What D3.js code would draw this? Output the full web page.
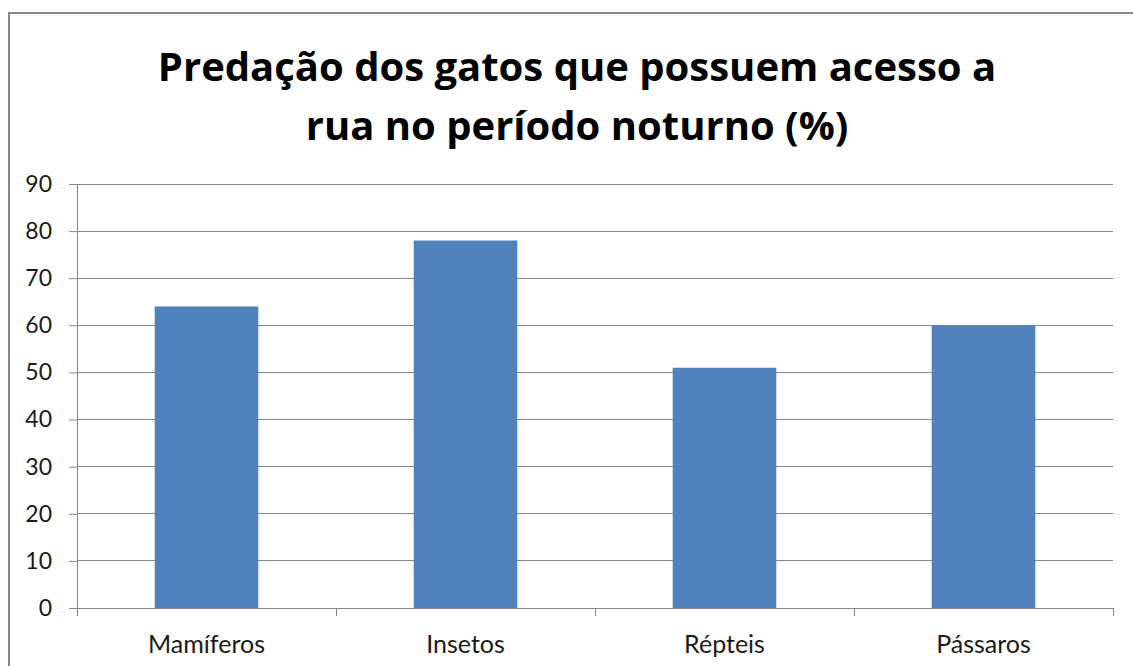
<!DOCTYPE html>
<html><head><meta charset="utf-8">
<script src="https://cdn.jsdelivr.net/npm/d3@7"></script>
<style>body{margin:0;background:#fff;} svg{display:block;}</style>
</head><body>
<svg id="c" width="1133" height="666"></svg>
<script>
const categories = ["Mamíferos", "Insetos", "Répteis", "Pássaros"];
const values = [64, 78, 51, 60];
const yTicks = [0, 10, 20, 30, 40, 50, 60, 70, 80, 90];
const titleLines = ["Predação dos gatos que possuem acesso a", "rua no período noturno (%)"];

(function () {
const svg = d3.select("#c");
svg.append("rect").attr("x", 9).attr("y", 13).attr("width", 1140).attr("height", 670)
  .attr("fill", "#fff").attr("stroke", "#868686").attr("stroke-width", 2);

const pLeft = 77, pRight = 1113, pTop = 184, pBottom = 608;
const x = d3.scaleBand().domain(categories).range([pLeft, pRight]).paddingInner(0.6).paddingOuter(0.3);
const y = d3.scaleLinear().domain([0, 90]).range([pBottom, pTop]);

svg.append("g").selectAll("line").data(yTicks.filter(d => d > 0)).join("line")
  .attr("x1", pLeft).attr("x2", pRight).attr("y1", d => y(d)).attr("y2", d => y(d))
  .attr("stroke", "#868686").attr("stroke-width", 1).attr("shape-rendering", "crispEdges");

svg.append("g").selectAll("rect").data(values).join("rect")
  .attr("x", (d, i) => x(categories[i])).attr("width", x.bandwidth())
  .attr("y", d => y(d)).attr("height", d => y(0) - y(d))
  .attr("fill", "#4F81BD");

const font = "Lato, 'Open Sans', sans-serif";
const ya = svg.append("g").attr("transform", `translate(${pLeft},0)`)
  .call(d3.axisLeft(y).tickValues(yTicks).tickSize(8).tickPadding(17).tickSizeOuter(0));
ya.select(".domain").attr("stroke", "#868686");
ya.selectAll(".tick line").attr("stroke", "#868686");
ya.selectAll("text").attr("font-family", font).attr("font-size", 23).attr("fill", "#1a1a1a");

const xa = svg.append("g").attr("transform", `translate(0,${pBottom})`)
  .call(d3.axisBottom(x).tickSize(0).tickPadding(27).tickSizeOuter(0));
xa.select(".domain").attr("stroke", "#868686");
xa.selectAll("text").attr("font-family", font).attr("font-size", 25).attr("fill", "#1a1a1a");
const bounds = d3.range(categories.length + 1).map(i => pLeft + i * (pRight - pLeft) / categories.length);
svg.append("g").selectAll("line").data(bounds).join("line")
  .attr("x1", d => d).attr("x2", d => d).attr("y1", pBottom).attr("y2", pBottom + 8)
  .attr("stroke", "#868686").attr("shape-rendering", "crispEdges");

svg.append("g").selectAll("text").data(titleLines).join("text")
  .attr("x", 577).attr("y", (d, i) => 81 + i * 59)
  .attr("text-anchor", "middle").attr("font-family", "'Open Sans', sans-serif")
  .attr("font-weight", "bold").attr("font-size", 40).attr("fill", "#000").text(d => d);
})();
</script>
</body></html>
